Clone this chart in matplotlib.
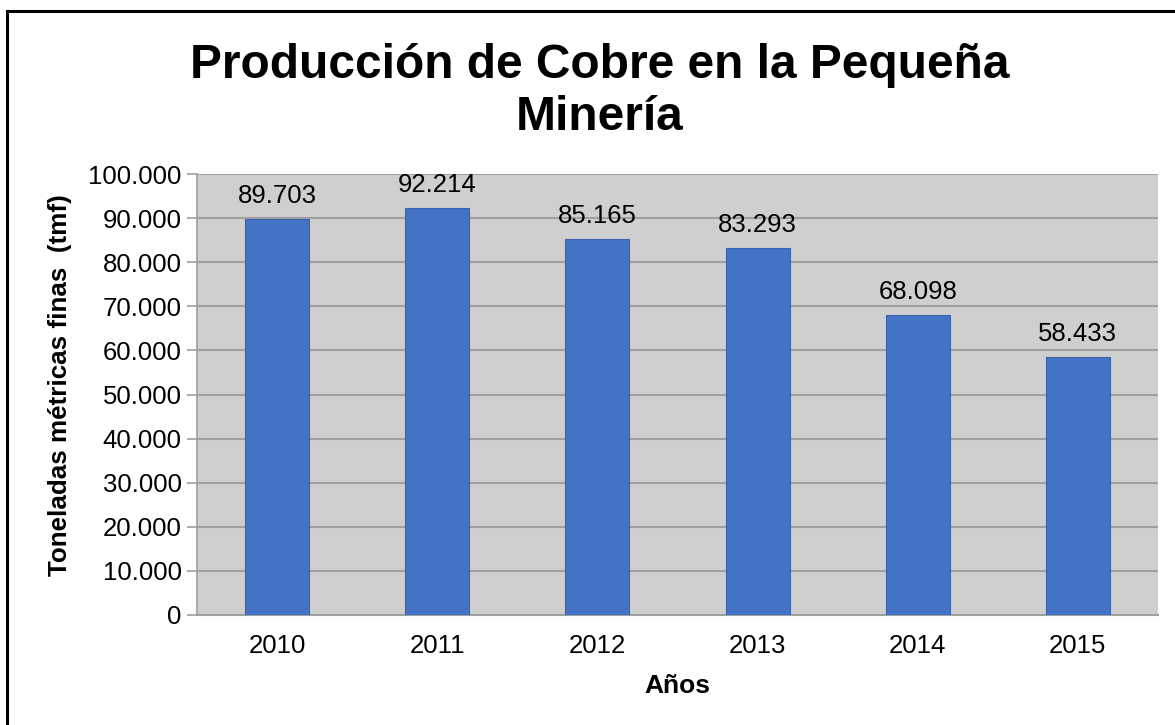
import matplotlib
matplotlib.use("Agg")
import matplotlib.pyplot as plt
from matplotlib.lines import Line2D

years = ["2010", "2011", "2012", "2013", "2014", "2015"]
values = [89703, 92214, 85165, 83293, 68098, 58433]
yticks = [0, 10000, 20000, 30000, 40000, 50000, 60000, 70000, 80000, 90000, 100000]
title_lines = ["Producción de Cobre en la Pequeña", "Minería"]

def fmt(v):
    return f"{v:,}".replace(",", ".")

plt.rcParams['font.family'] = ['Liberation Sans', 'DejaVu Sans']

fig = plt.figure(figsize=(11.75, 7.25), dpi=100)
ax = fig.add_axes([197/1175, 1 - 615/725, (1158-197)/1175, (615-174)/725])
ax.set_facecolor('#D0CFCF')

x = list(range(len(years)))
ax.bar(x, values, width=0.4, color='#4472C4', edgecolor='#3A64AD', linewidth=0.8, zorder=3)
for xi, v in zip(x, values):
    ax.annotate(fmt(v), (xi, v), xytext=(0, 8), textcoords='offset points',
                ha='center', va='bottom', fontsize=18.5, color='black', zorder=4)

ax.set_xlim(-0.5, len(years) - 0.5)
ax.set_ylim(0, 100000)
ax.set_yticks(yticks)
ax.set_yticklabels([fmt(v) for v in yticks], fontsize=18.5)
ax.set_xticks(x)
ax.set_xticklabels(years, fontsize=18.5)
ax.yaxis.grid(True, color='#A0A0A0', linewidth=1.5, zorder=0)
ax.set_axisbelow(True)
for s in ['top', 'right']:
    ax.spines[s].set_visible(False)
ax.spines['left'].set_color('#A0A0A0')
ax.spines['bottom'].set_color('#A0A0A0')
ax.spines['left'].set_linewidth(1.2)
ax.spines['bottom'].set_linewidth(1.5)
ax.tick_params(axis='y', length=7, color='#A0A0A0', width=1.2, pad=4)
ax.tick_params(axis='x', length=0, pad=14)

ax.set_ylabel("Toneladas métricas finas  (tmf)", fontsize=18.7, fontweight='bold')
ax.yaxis.set_label_coords(-0.130, 0.5215)
ax.set_xlabel("Años", fontsize=19, fontweight='bold', labelpad=11)

fig.text(600/1175, 1 - 78/725, title_lines[0], ha='center', va='baseline',
         fontsize=34.5, fontweight='bold')
fig.text(600/1175, 1 - 130/725, title_lines[1], ha='center', va='baseline',
         fontsize=34.5, fontweight='bold')

fig.add_artist(Line2D([6.5/1175, 6.5/1175], [0, 1 - 10.5/725], transform=fig.transFigure, color='black', linewidth=2.2))
fig.add_artist(Line2D([6.5/1175, 1], [1 - 10.5/725, 1 - 10.5/725], transform=fig.transFigure, color='black', linewidth=2.2))

fig.savefig("out.png", dpi=100)
